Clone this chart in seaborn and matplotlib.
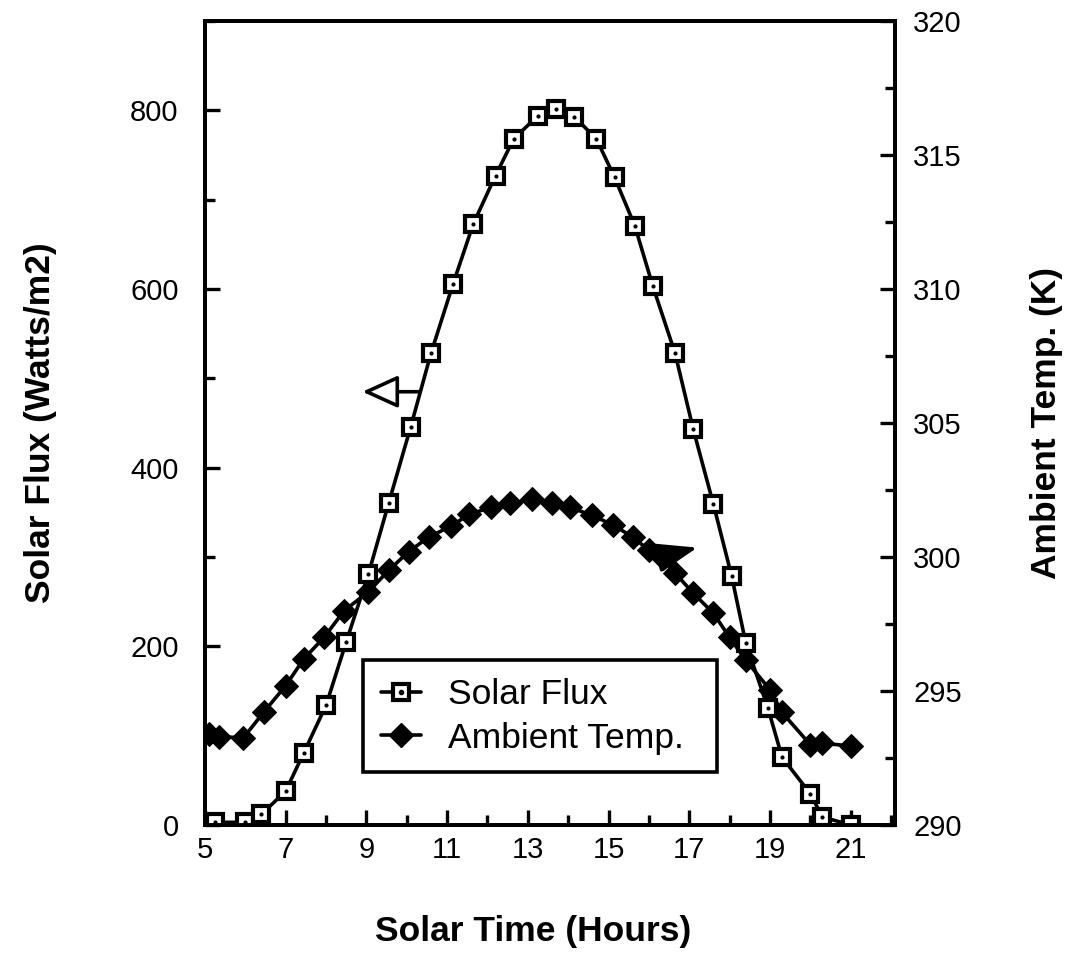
import matplotlib
matplotlib.use("Agg")
import matplotlib.pyplot as plt
import seaborn as sns
import pandas as pd
from matplotlib.lines import Line2D
from matplotlib.legend_handler import HandlerTuple
from matplotlib.ticker import MultipleLocator

# ---- data ----
flux_hours = [5.25, 6.0, 6.4, 7.0, 7.45, 8.0, 8.5, 9.05, 9.55, 10.1, 10.6, 11.15,
              11.65, 12.2, 12.65, 13.25, 13.7, 14.15, 14.7, 15.15, 15.65, 16.1,
              16.65, 17.1, 17.6, 18.05, 18.4, 18.95, 19.3, 20.0, 20.3, 21.0]
flux_values = [3, 3, 12, 38, 81, 134, 205, 281, 360, 446, 528, 606,
               673, 727, 768, 794, 801, 793, 768, 725, 671, 603,
               528, 443, 359, 279, 204, 131, 76, 35, 9, 0]

temp_hours = [5.1, 5.35, 5.95, 6.45, 7.0, 7.45, 7.95, 8.45, 9.05, 9.55, 10.05,
              10.55, 11.1, 11.55, 12.1, 12.55, 13.1, 13.6, 14.05, 14.6, 15.1,
              15.6, 16.0, 16.35, 16.65, 17.1, 17.6, 18.0, 18.4, 19.0, 19.3,
              20.0, 20.3, 21.0]
temp_values = [293.4, 293.3, 293.25, 294.2, 295.2, 296.2, 297.0, 298.0, 298.7,
               299.5, 300.2, 300.75, 301.15, 301.6, 301.85, 302.0, 302.15,
               302.0, 301.85, 301.55, 301.2, 300.75, 300.25, 299.95, 299.4,
               298.65, 297.9, 297.0, 296.15, 295.05, 294.2, 293.0, 293.05, 292.95]

x_ticks = [5, 7, 9, 11, 13, 15, 17, 19, 21]
flux_ticks = [0, 200, 400, 600, 800]
temp_ticks = [290, 295, 300, 305, 310, 315, 320]

x_label = "Solar Time (Hours)"
left_label = "Solar Flux (Watts/m2)"
right_label = "Ambient Temp. (K)"
series_names = ["Solar Flux", "Ambient Temp."]

flux_df = pd.DataFrame({"hour": flux_hours, "flux": flux_values})
temp_df = pd.DataFrame({"hour": temp_hours, "temp": temp_values})

sns.set_theme(style="ticks")
plt.rcParams["font.family"] = ["Liberation Sans", "DejaVu Sans"]
plt.rcParams["text.color"] = "black"
plt.rcParams["axes.labelcolor"] = "black"
plt.rcParams["xtick.color"] = "black"
plt.rcParams["ytick.color"] = "black"

W, H = 1073, 961
fig = plt.figure(figsize=(W / 100, H / 100), dpi=100)
ax = fig.add_axes([205 / W, 1 - 825 / H, 690 / W, 804 / H])
ax2 = ax.twinx()
ax.set_zorder(ax2.get_zorder() + 1)
ax.patch.set_visible(False)

LW = 2.6
sq_kw = dict(marker="s", markersize=12, markerfacecolor="white",
             markeredgecolor="black", markeredgewidth=3.0)
sns.lineplot(data=flux_df, x="hour", y="flux", ax=ax, color="black",
             linewidth=LW, **sq_kw)
sns.scatterplot(data=flux_df, x="hour", y="flux", ax=ax, color="black",
                s=9, linewidth=0, zorder=5)

dm_kw = dict(marker="D", markersize=12, markerfacecolor="black",
             markeredgecolor="black")
sns.lineplot(data=temp_df, x="hour", y="temp", ax=ax2, color="black",
             linewidth=LW, **dm_kw)

ax.set_xlim(5, 22.1)
ax.set_ylim(0, 900)
ax2.set_ylim(290, 320)
ax.set_xticks(x_ticks)
ax.set_xticklabels([str(t) for t in x_ticks])
ax.xaxis.set_minor_locator(MultipleLocator(1))
ax.set_yticks(flux_ticks)
ax.set_yticklabels([str(t) for t in flux_ticks])
ax.yaxis.set_minor_locator(MultipleLocator(100))
ax2.set_yticks(temp_ticks)
ax2.set_yticklabels([str(t) for t in temp_ticks])
ax2.yaxis.set_minor_locator(MultipleLocator(2.5))

for a in (ax, ax2):
    a.tick_params(which="major", direction="in", length=11, width=2.4,
                  labelsize=21, colors="black")
    a.tick_params(which="minor", direction="in", length=7, width=2.4)
    for s in a.spines.values():
        s.set_linewidth(2.8)
        s.set_color("black")
ax.tick_params(axis="y", which="both", right=False, pad=19)
ax.tick_params(axis="x", which="both", top=False, pad=8)
ax2.tick_params(axis="y", which="both", left=False, right=True, pad=13)

lab_kw = dict(fontsize=25.5, fontweight="bold", color="black")
ax.set_xlabel(x_label, **lab_kw)
ax.set_ylabel(left_label, **lab_kw)
ax2.set_ylabel(right_label, **lab_kw)
ax.xaxis.set_label_coords(0.475, -0.112)
ax.yaxis.set_label_coords(-0.215, 0.50)
ax2.yaxis.set_label_coords(1.195, 0.5)

# direction arrows
ax.annotate("", xy=(8.9, 485), xytext=(10.3, 485),
            arrowprops=dict(arrowstyle="-|>,head_length=1.1,head_width=0.5",
                            mutation_scale=20, fc="white", ec="black", lw=2.6,
                            shrinkA=0, shrinkB=0))
ax2.annotate("", xy=(17.2, 300.35), xytext=(16.3, 300.0),
             arrowprops=dict(arrowstyle="-|>,head_length=1.25,head_width=0.45",
                             mutation_scale=20, fc="black", ec="black", lw=2.6,
                             shrinkA=0, shrinkB=0))

h_flux = (Line2D([], [], color="black", linewidth=LW, **sq_kw),
          Line2D([], [], color="black", linestyle="none", marker="o",
                 markersize=3))
h_temp = Line2D([], [], color="black", linewidth=LW, **dm_kw)
leg = ax.legend([h_flux, h_temp], series_names,
                handler_map={tuple: HandlerTuple(ndivide=1)},
                loc="upper left", bbox_to_anchor=(0.229, 0.0597, 0.513, 0.145),
                mode="expand", borderaxespad=0, fontsize=25.5, frameon=True,
                fancybox=False, edgecolor="black", framealpha=1,
                handlelength=1.15, handletextpad=0.75, borderpad=0.5,
                labelspacing=0.3)
leg.get_frame().set_linewidth(2.6)
for t in leg.get_texts():
    t.set_color("black")

fig.savefig("out.png", dpi=100, facecolor="white")
